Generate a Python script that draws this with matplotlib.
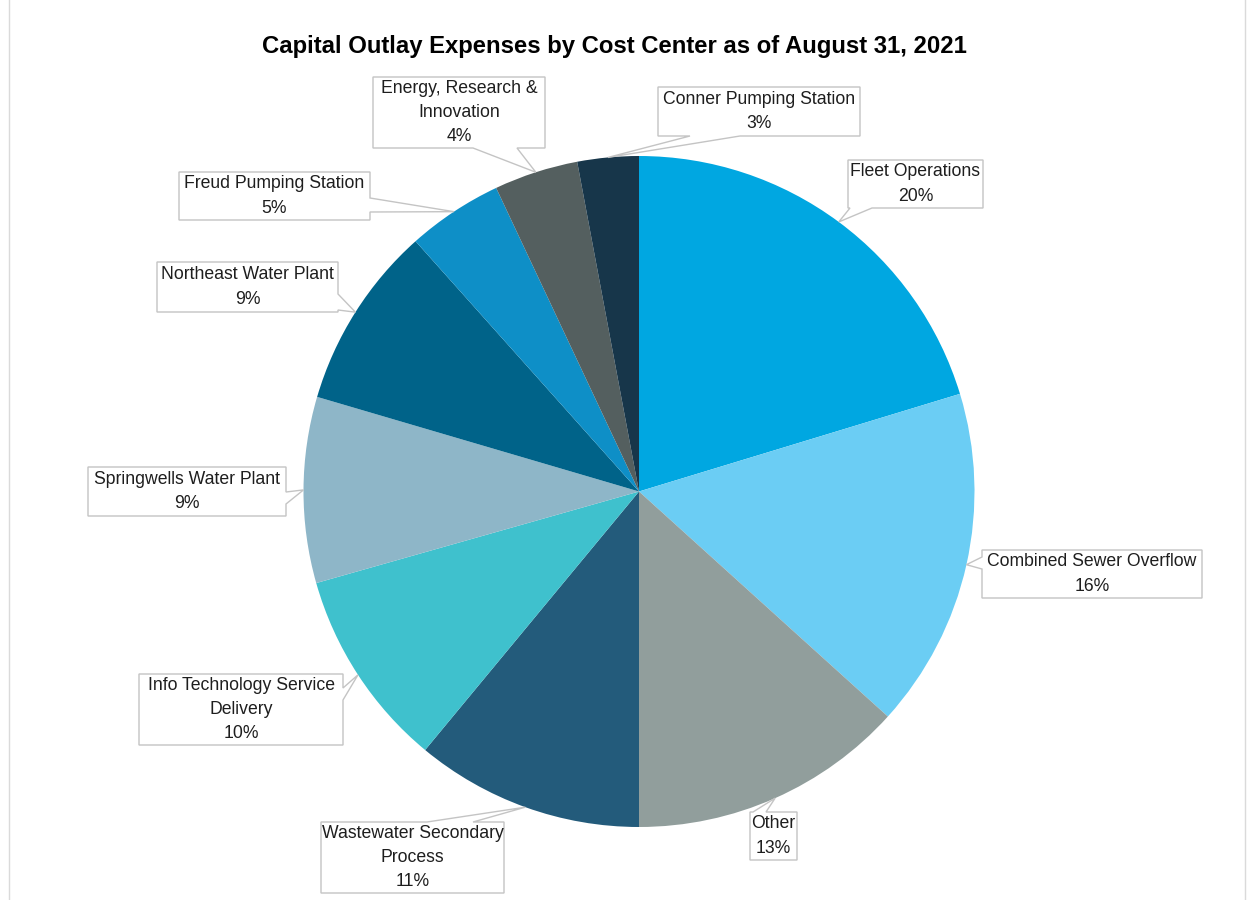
import matplotlib
matplotlib.use("Agg")
import numpy as np
import matplotlib.pyplot as plt
from matplotlib.patches import Polygon

# ---------- Data ----------
CENTERS = ["Fleet Operations", "Combined Sewer Overflow", "Other",
           "Wastewater Secondary\nProcess", "Info Technology Service\nDelivery",
           "Springwells Water Plant", "Northeast Water Plant",
           "Freud Pumping Station", "Energy, Research &\nInnovation",
           "Conner Pumping Station"]
SHARES = [20.3, 16.4, 13.3, 11.0, 9.6, 8.95, 8.85, 4.6, 4.05, 2.95]
COLORS = ["#00A7E1", "#6BCDF4", "#919E9C", "#235B7B", "#3FC1CD",
          "#8EB6C8", "#006389", "#0E8FC7", "#545F5F", "#17364A"]
TITLE = "Capital Outlay Expenses by Cost Center as of August 31, 2021"

# ---------- Layout (pixel coords, y down) ----------
W, H = 1252, 900
CX, CY, R = 639, 491.5, 335.5
# box (left, top, right, bottom), pointer side, pointer base positions
BOXES = [
    ((848, 160, 983, 208), "bottom", (850, 872)),
    ((982, 550, 1202, 598), "left", (557, 569)),
    ((750, 812, 797, 860), "top", (753, 766)),
    ((321, 822, 504, 893), "top", (427, 473)),
    ((139, 674, 343, 745), "right", (688, 700)),
    ((88, 467, 286, 516), "right", (492, 504)),
    ((157, 262, 338, 312), "right", (294, 310)),
    ((179, 172, 370, 220), "right", (198, 212)),
    ((373, 77, 545, 148), "bottom", (473, 517)),
    ((658, 87, 860, 136), "bottom", (690, 740)),
]

plt.rcParams["font.family"] = ["Liberation Sans", "DejaVu Sans"]


def Y(y):
    return H - y


def callout(box, side, base, tip):
    l, t, r, b = box
    p1, p2 = base
    if side == "top":
        pts = [(l, t), (p1, t), tip, (p2, t), (r, t), (r, b), (l, b)]
    elif side == "right":
        pts = [(l, t), (r, t), (r, p1), tip, (r, p2), (r, b), (l, b)]
    elif side == "bottom":
        pts = [(l, t), (r, t), (r, b), (p2, b), tip, (p1, b), (l, b)]
    else:
        pts = [(l, t), (r, t), (r, b), (l, b), (l, p2), tip, (l, p1)]
    return [(x, Y(y)) for x, y in pts]


fig = plt.figure(figsize=(W / 100, H / 100), dpi=100)
ax = fig.add_axes([0, 0, 1, 1])
wedges, _ = ax.pie(SHARES, colors=COLORS, startangle=90, counterclock=False,
                   center=(CX, Y(CY)), radius=R,
                   wedgeprops=dict(linewidth=0))
ax.set_xlim(0, W)
ax.set_ylim(0, H)
ax.set_aspect("equal")
ax.axis("off")

for w, name, v, (box, side, base) in zip(wedges, CENTERS, SHARES, BOXES):
    mid = np.deg2rad((w.theta1 + w.theta2) / 2)
    tip = (CX + R * np.cos(mid), CY - R * np.sin(mid))
    ax.add_patch(Polygon(callout(box, side, base, tip), closed=True,
                         facecolor="white", edgecolor="#C4C4C4",
                         linewidth=1.0, zorder=3))
    l, t, r, b = box
    ax.text((l + r) / 2, Y((t + b) / 2), f"{name}\n{v:.0f}%", ha="center",
            va="center", fontsize=12.7, color="#1E1E1E", linespacing=1.55,
            zorder=4)

ax.text(614, Y(47), TITLE, ha="center", va="center", fontsize=17.2,
        fontweight="bold", color="black")

# faint chart-area border lines
ax.plot([9, 9], [0, H], color="#DADADA", lw=1)
ax.plot([1245, 1245], [0, H], color="#DADADA", lw=1)

fig.savefig("out.png", dpi=100)
